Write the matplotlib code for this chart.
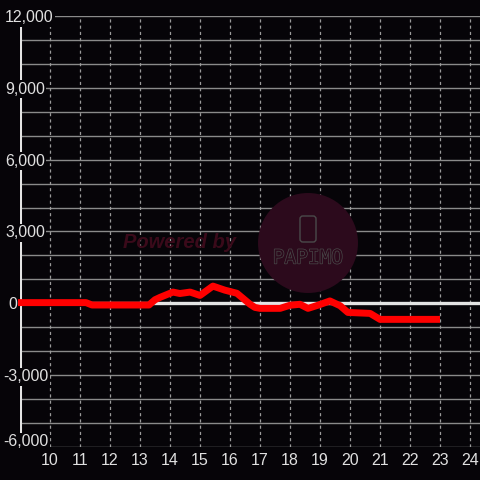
import matplotlib
matplotlib.use("Agg")
import matplotlib.pyplot as plt
import matplotlib.transforms as mtransforms
from matplotlib.patches import Circle, FancyBboxPatch
from matplotlib import patheffects as pe

# ---- data ----
hours = [8.93, 11.2, 11.4, 13.3, 13.5, 13.67, 14.1, 14.33, 14.67, 15.0, 15.43,
         15.83, 16.23, 16.67, 16.83, 17.0, 17.67, 18.0, 18.33, 18.6, 18.93,
         19.33, 19.67, 19.93, 20.67, 21.0, 23.0]
values = [30, 30, -70, -70, 150, 250, 470, 410, 470, 330, 720,
          550, 420, -40, -170, -210, -210, -80, -40, -210, -80,
          100, -100, -380, -420, -670, -670]
x_ticks = list(range(10, 25))
y_ticks = [12000, 9000, 6000, 3000, 0, -3000, -6000]
y_labels = ["12,000", "9,000", "6,000", "3,000", "0", "-3,000", "-6,000"]
grid_levels = list(range(-6000, 13000, 1000))

BG = "#060408"
TXT = "#e0e0e0"
FONT = "Liberation Sans"
FS = 11.5

fig = plt.figure(figsize=(4.8, 4.8), dpi=100, facecolor=BG)
W = H = 480.0
ax = fig.add_axes([20 / W, 33 / H, 460 / W, 431 / H])
ax.set_facecolor(BG)
ax.set_xlim(9, 9 + 460 / 30)
ax.set_ylim(-6000, 12000)
for s in ax.spines.values():
    s.set_visible(False)

# grid
ax.hlines(grid_levels, 9, 9 + 460 / 30, color="#8a8a8a", lw=1.0, zorder=1)
ax.vlines(x_ticks, -6000, 12000, color="#9a9a9a", lw=0.9,
          linestyles=(0, (2.5, 2.5)), zorder=1)

# zero line and left axis line
ax.axhline(0, color="#e4e4e4", lw=2.4, zorder=2)
ax.vlines(9, -6000, 11650, color="#e4e4e4", lw=2.2, zorder=2)

# watermark
fig.patches.append(Circle((308 / W, 1 - 243 / H), 50 / W, transform=fig.transFigure,
                          facecolor="#2c0a1c", edgecolor="none", zorder=0.5))
fig.text(123 / W, 1 - 242 / H, "Powered by", family=FONT, fontsize=14.5,
         fontweight="bold", fontstyle="italic", color="#3a0a1a",
         ha="left", va="center", zorder=0.6)
fig.patches.append(FancyBboxPatch((300 / W, 1 - 242 / H), 16 / W, 26 / H,
                                  boxstyle="round,pad=0,rounding_size=0.006",
                                  transform=fig.transFigure, facecolor="none",
                                  edgecolor="#4a4a4a", lw=1.0, zorder=0.6))
fig.text(308 / W, 1 - 258 / H, "PAPIMO", family="DejaVu Sans Mono", fontsize=14,
         color="#2c0a1c", ha="center", va="center", zorder=0.6,
         path_effects=[pe.Stroke(linewidth=1.0, foreground="#4a4a4a"), pe.Normal()])

# data line
ax.plot(hours, values, color="#ff0000", lw=5.0, solid_joinstyle="round",
        solid_capstyle="butt", zorder=5, clip_on=False)

# x tick labels
ax.set_xticks(x_ticks)
ax.set_xticklabels([str(h) for h in x_ticks])
ax.tick_params(axis="x", length=0, pad=4, labelsize=FS, labelcolor=TXT)
for lab in ax.get_xticklabels():
    lab.set_family(FONT)
ax.set_yticks([])

# y labels with background boxes
for v, lab in zip(y_ticks, y_labels):
    dy = -1.5 if v != min(y_ticks) else 5.0
    tr = ax.get_yaxis_transform() + mtransforms.ScaledTranslation(0, dy / 100, fig.dpi_scale_trans)
    x0 = (5 - 20) / 460 if not lab.startswith("-") else (3 - 20) / 460
    if lab == "0":
        x0 = (8 - 20) / 460
    ax.text(x0, v, lab, transform=tr, ha="left", va="center", family=FONT,
            fontsize=FS, color=TXT, zorder=6, clip_on=False,
            bbox=dict(facecolor=BG, edgecolor="none", pad=1.2))

fig.savefig("out.png", dpi=100, facecolor=BG)
